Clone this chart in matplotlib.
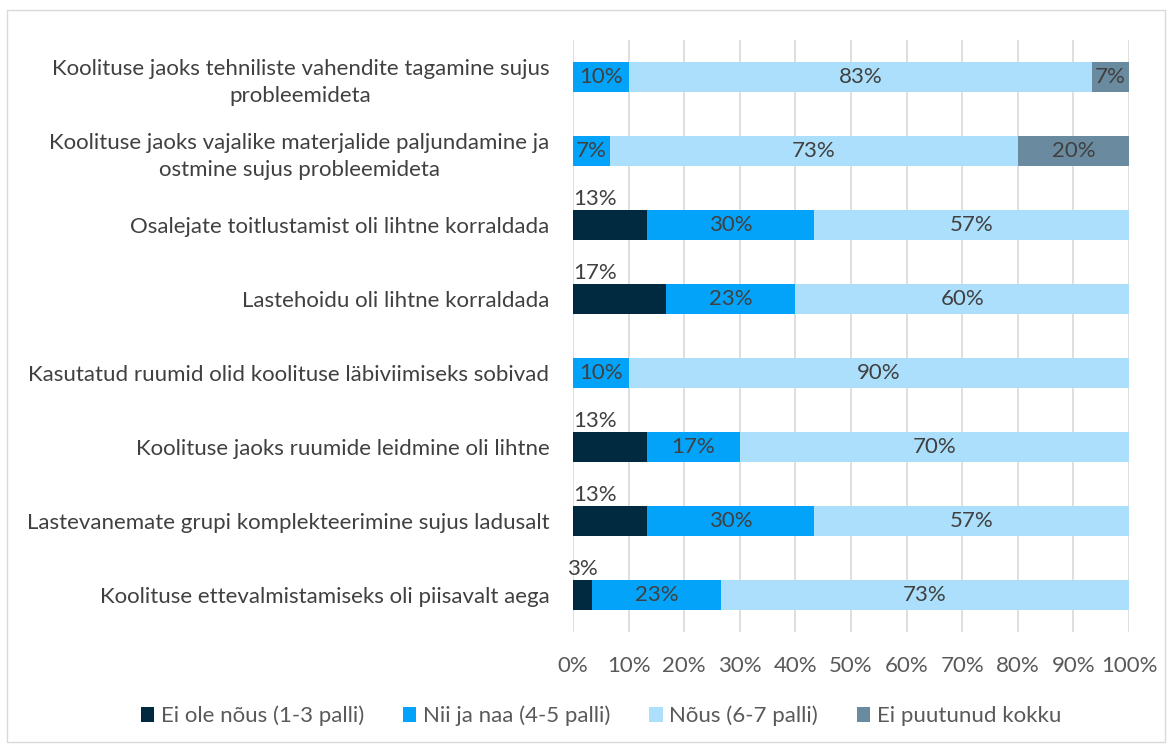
import matplotlib.pyplot as plt
from matplotlib.patches import Rectangle

plt.rcParams['font.family'] = ['Lato', 'DejaVu Sans']

categories = [
    "Koolituse jaoks tehniliste vahendite tagamine sujus\nprobleemideta",
    "Koolituse jaoks vajalike materjalide paljundamine ja\nostmine sujus probleemideta",
    "Osalejate toitlustamist oli lihtne korraldada",
    "Lastehoidu oli lihtne korraldada",
    "Kasutatud ruumid olid koolituse läbiviimiseks sobivad",
    "Koolituse jaoks ruumide leidmine oli lihtne",
    "Lastevanemate grupi komplekteerimine sujus ladusalt",
    "Koolituse ettevalmistamiseks oli piisavalt aega",
]
ei_ole = [0, 0, 13.33, 16.67, 0, 13.33, 13.33, 3.33]
nii_ja_naa = [10, 6.67, 30, 23.33, 10, 16.67, 30, 23.33]
nous = [83.33, 73.33, 56.67, 60, 90, 70, 56.67, 73.33]
ei_puutunud = [6.67, 20, 0, 0, 0, 0, 0, 0]
series_names = ["Ei ole nõus (1-3 palli)", "Nii ja naa (4-5 palli)",
                "Nõus (6-7 palli)", "Ei puutunud kokku"]
colors = ["#012a41", "#03a3f9", "#abdffb", "#6a8aa0"]

FS = 16

fig = plt.figure(figsize=(11.71, 7.44), dpi=100)
ax = fig.add_axes([573 / 1171, 1 - 632 / 744, 556 / 1171, 592 / 744])

y = list(range(len(categories)))
left = [0] * len(categories)
series = [ei_ole, nii_ja_naa, nous, ei_puutunud]
for k, vals in enumerate(series):
    ax.barh(y, vals, left=left, height=0.4, color=colors[k],
            label=series_names[k], zorder=3)
    for i, v in enumerate(vals):
        if v <= 0:
            continue
        txt = "%d%%" % round(v)
        if k == 0:
            ax.text(min(v / 2, 4), i - 0.22, txt, ha='center', va='bottom',
                    fontsize=FS, color='#404040', zorder=4)
        else:
            ax.text(left[i] + v / 2, i, txt, ha='center', va='center',
                    fontsize=FS, color='#404040', zorder=4)
    left = [a + b for a, b in zip(left, vals)]

ax.set_xlim(0, 100)
ax.set_ylim(len(categories) - 0.5, -0.5)
ax.set_xticks(range(0, 101, 10))
ax.set_xticklabels(["%d%%" % t for t in range(0, 101, 10)])
ax.set_yticks(y)
ax.set_yticklabels(categories, fontsize=FS, color='#404040')
ax.tick_params(axis='x', length=0, pad=17, labelsize=FS, labelcolor='#595959')
ax.tick_params(axis='y', length=0, pad=17)
for lbl in ax.get_yticklabels():
    lbl.set_multialignment('center')
    lbl.set_linespacing(1.45)
ax.grid(axis='x', color='#d9d9d9', linewidth=1.2, zorder=0)
for s in ax.spines.values():
    s.set_visible(False)

leg = fig.legend(loc='center', bbox_to_anchor=(601 / 1171, 1 - 716 / 744),
                 ncol=4, frameon=False, fontsize=FS, handlelength=0.6,
                 handleheight=0.6, handletextpad=0.3, columnspacing=1.75)
for t in leg.get_texts():
    t.set_color('#595959')

fig.patches.append(Rectangle((7 / 1171, 2 / 744), 1158 / 1171, 732 / 744,
                             transform=fig.transFigure, fill=False,
                             edgecolor='#d9d9d9', linewidth=1))

fig.savefig("out.png", dpi=100)
